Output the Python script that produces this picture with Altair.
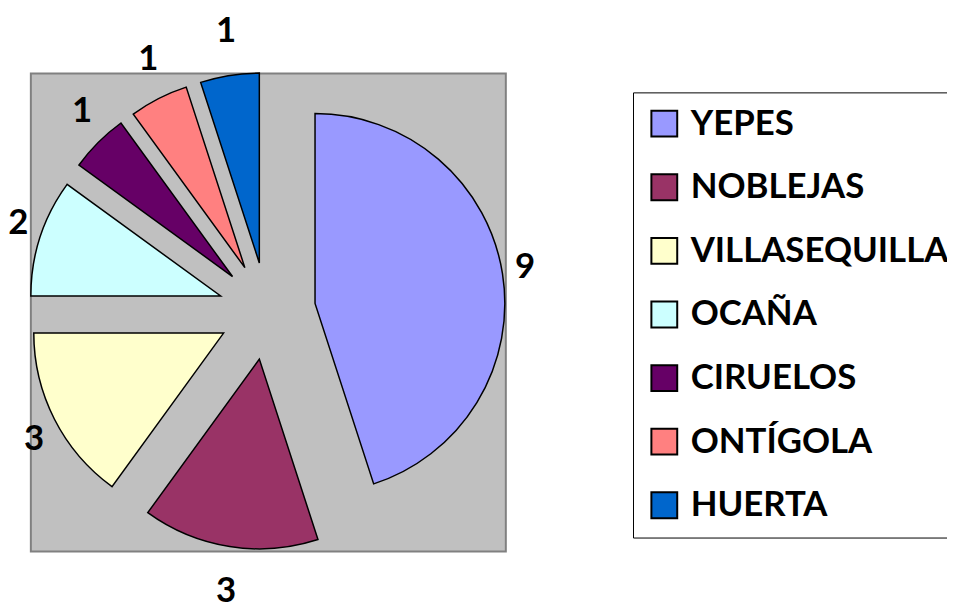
import altair as alt
import pandas as pd

# ---- data ----
towns = ["YEPES", "NOBLEJAS", "VILLASEQUILLA", "OCAÑA", "CIRUELOS", "ONTÍGOLA", "HUERTA"]
counts = [9, 3, 3, 2, 1, 1, 1]
colors = ["#9999FF", "#993366", "#FFFFCC", "#CCFFFF", "#660066", "#FF8080", "#0066CC"]

# ---- layout / style constants (pixels) ----
VIEW_W, VIEW_H = 478, 481          # grey plot area
CX, CY = 237.6, 239.0              # pie centre inside plot area
R = 191.0                          # pie radius
EXPLODE = 49.0 / R                 # explosion distance in radius units
LAB_AX, LAB_AY = 263.0 / R, 285.0 / R  # label ellipse semi-axes (radius units)

df = pd.DataFrame({"town": towns, "count": counts, "order": list(range(len(towns)))})

xscale = alt.Scale(domain=[-CX / R, (VIEW_W - CX) / R], nice=False, zero=False)
yscale = alt.Scale(domain=[-(VIEW_H - CY) / R, CY / R], nice=False, zero=False)

base = (
    alt.Chart(df)
    .transform_window(cum="sum(count)", sort=[alt.SortField("order")], frame=[None, 0])
    .transform_joinaggregate(total="sum(count)")
    .transform_calculate(t1="datum.cum / datum.total * 2 * PI")
    .transform_calculate(t0="(datum.cum - datum.count) / datum.total * 2 * PI")
    .transform_calculate(mid="(datum.t0 + datum.t1) / 2")
    .transform_calculate(ex=f"{EXPLODE} * sin(datum.mid)")
    .transform_calculate(ey=f"{EXPLODE} * cos(datum.mid)")
    .transform_calculate(lx=f"{LAB_AX} * sin(datum.mid)")
    .transform_calculate(ly=f"{LAB_AY} * cos(datum.mid)")
)

arcs = base.mark_arc(stroke="black", strokeWidth=1.5, radius=R).encode(
    x=alt.X("ex:Q", scale=xscale, axis=None),
    y=alt.Y("ey:Q", scale=yscale, axis=None),
    theta=alt.Theta("t0:Q", scale=None),
    theta2=alt.Theta2("t1:Q"),
    color=alt.Color(
        "town:N",
        sort=towns,
        scale=alt.Scale(domain=towns, range=colors),
        legend=alt.Legend(
            orient="none",
            legendX=606,
            legendY=19,
            title=None,
            direction="vertical",
            fillColor="white",
            strokeColor="black",
            padding=14,
            rowPadding=28,
            labelOffset=9,
            labelFont="Lato",
            labelFontWeight="bold",
            labelFontSize=35,
            labelColor="black",
            labelLimit=500,
            symbolType="square",
            symbolSize=676,
            symbolStrokeColor="black",
            symbolStrokeWidth=2,
            symbolOpacity=1,
        ),
    ),
)

labels = base.mark_text(
    font="Lato", fontWeight="bold", fontSize=35, color="black", align="center", baseline="middle"
).encode(
    x=alt.X("lx:Q", scale=xscale, axis=None),
    y=alt.Y("ly:Q", scale=yscale, axis=None),
    text=alt.Text("count:Q"),
)

chart = (
    alt.layer(arcs, labels)
    .properties(
        width=VIEW_W,
        height=VIEW_H,
        autosize=alt.AutoSizeParams(type="none"),
        padding={"left": 23, "top": 64, "right": 444, "bottom": 58},
        background="white",
    )
    .configure_view(fill="#C0C0C0", stroke="#808080", strokeWidth=2)
)

chart.save("out.html", embed_options={"renderer": "svg", "actions": False})
